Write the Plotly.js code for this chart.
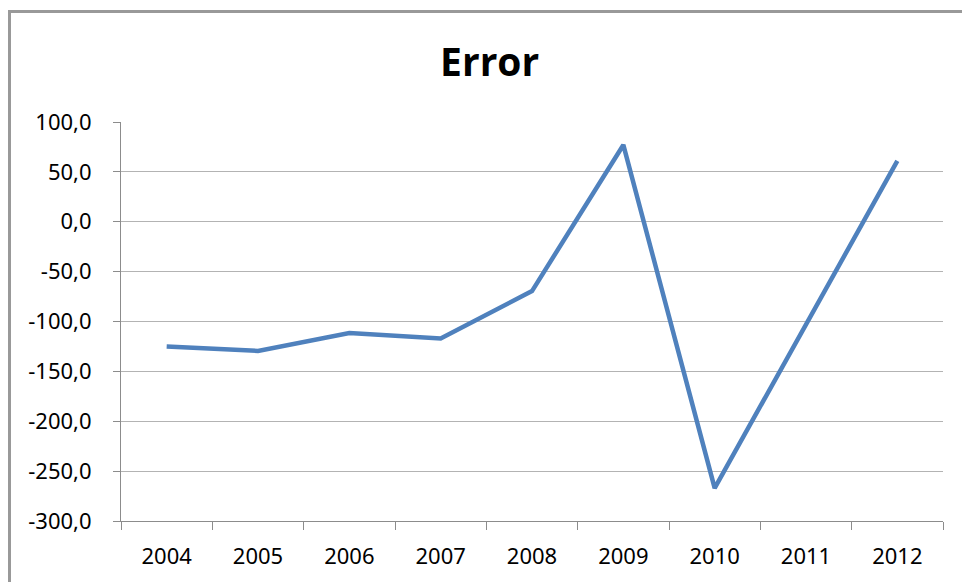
<!DOCTYPE html>
<html>
<head>
<meta charset="utf-8">
<script src="https://cdn.plot.ly/plotly-3.0.1.min.js"></script>
<style>
  html, body { margin: 0; padding: 0; background: #fff; }
  #wrap { position: relative; width: 962px; height: 582px; overflow: hidden; }
  #frame { position: absolute; left: 8px; top: 10px; width: 1000px; height: 700px; border: 3px solid #999999; pointer-events: none; }
  #chart { width: 962px; height: 582px; }
</style>
</head>
<body>
<div id="wrap">
  <div id="chart"></div>
  <div id="frame"></div>
</div>
<script>
const years = ['2004','2005','2006','2007','2008','2009','2010','2011','2012'];
const errorValues = [-125, -129.5, -111.5, -117, -69.5, 77, -267, -102, 61];
const yTickVals = [100, 50, 0, -50, -100, -150, -200, -250, -300];
const yTickText = ['100,0','50,0','0,0','-50,0','-100,0','-150,0','-200,0','-250,0','-300,0'];

const trace = {
  x: years,
  y: errorValues,
  type: 'scatter',
  mode: 'lines',
  line: { color: '#4F81BD', width: 4.5 },
  hoverinfo: 'x+y'
};

const layout = {
  width: 962,
  height: 582,
  margin: { l: 121, r: 19, t: 122, b: 61 },
  paper_bgcolor: '#ffffff',
  plot_bgcolor: '#ffffff',
  showlegend: false,
  title: {
    text: '<b>Error</b>',
    font: { family: 'Open Sans, Noto Sans, sans-serif', size: 39, color: '#000000' },
    x: 0.509, xanchor: 'center', xref: 'container',
    y: 0.893, yanchor: 'middle', yref: 'container'
  },
  xaxis: {
    type: 'category',
    range: [-0.5, 8.5],
    tickson: 'boundaries',
    ticks: 'outside',
    ticklen: 8,
    tickcolor: '#8c8c8c',
    tickwidth: 1,
    ticklabelstandoff: 16,
    showgrid: false,
    showline: true,
    linecolor: '#8c8c8c',
    linewidth: 1,
    zeroline: false,
    tickfont: { family: 'Noto Sans, sans-serif', size: 22, color: '#000000' },
    fixedrange: true
  },
  yaxis: {
    range: [-300, 100],
    tickmode: 'array',
    tickvals: yTickVals,
    ticktext: yTickText,
    ticks: 'outside',
    ticklen: 7,
    tickcolor: '#8c8c8c',
    ticklabelstandoff: 17,
    showgrid: true,
    gridcolor: '#b3b3b3',
    gridwidth: 1,
    showline: true,
    linecolor: '#8c8c8c',
    linewidth: 1,
    zeroline: false,
    tickfont: { family: 'Noto Sans, sans-serif', size: 22, color: '#000000' },
    fixedrange: true
  }
};

Plotly.newPlot('chart', [trace], layout, { displayModeBar: false, staticPlot: true });
</script>
</body>
</html>
